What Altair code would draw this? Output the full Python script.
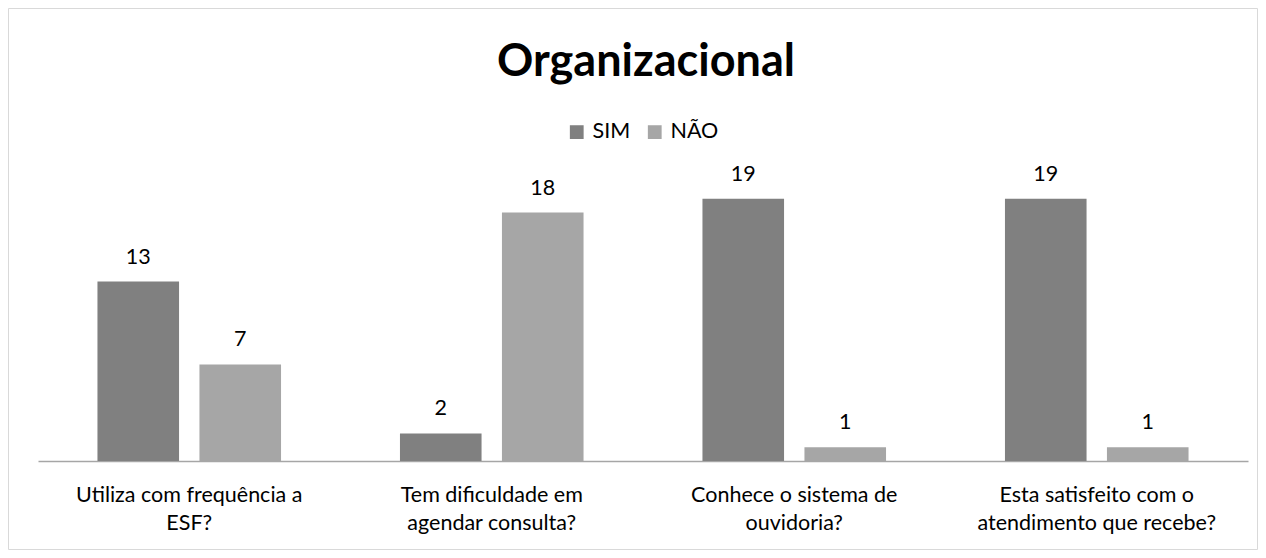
import altair as alt
import pandas as pd

categories = [
    "Utiliza com frequência a|ESF?",
    "Tem dificuldade em|agendar consulta?",
    "Conhece o sistema de|ouvidoria?",
    "Esta satisfeito com o|atendimento que recebe?",
]
series = ["SIM", "NÃO"]
sim_values = [13, 2, 19, 19]
nao_values = [7, 18, 1, 1]
title_text = ["Organizacional"]

rows = []
for c, s, n in zip(categories, sim_values, nao_values):
    rows.append({"cat": c, "serie": "SIM", "valor": s})
    rows.append({"cat": c, "serie": "NÃO", "valor": n})
df = pd.DataFrame(rows)

FONT = "Lato"
W, H = 1210, 276

x = alt.X("cat:N", sort=categories, title=None,
          scale=alt.Scale(paddingInner=0, paddingOuter=0),
          axis=alt.Axis(labelExpr="split(datum.label, '|')", labelAngle=0,
                        labelFontSize=21.5, labelFont=FONT, labelColor="#000000",
                        labelLineHeight=28, labelPadding=23, labelBaseline="top",
                        ticks=False, domainColor="#A6A6A6", domainWidth=1.5,
                        labelLimit=400))
xoff = alt.XOffset("serie:N", sort=series,
                   scale=alt.Scale(paddingInner=0.2, paddingOuter=0.583))
y = alt.Y("valor:Q", scale=alt.Scale(domain=[0, 20], nice=False), axis=None)
color = alt.Color("serie:N", sort=series,
                  scale=alt.Scale(domain=series, range=["#808080", "#A6A6A6"]),
                  legend=alt.Legend(title=None, orient="none", direction="horizontal",
                                    legendX=528, legendY=-64, symbolType="square",
                                    symbolSize=190, symbolStrokeWidth=0,
                                    labelFontSize=21.5, labelFont=FONT,
                                    labelColor="#000000", labelOffset=5,
                                    columnPadding=13, symbolOpacity=1))

base = alt.Chart(df)
bars = base.mark_bar().encode(x=x, xOffset=xoff, y=y, color=color)
labels = base.mark_text(fontSize=21.5, font=FONT, color="#000000",
                        baseline="alphabetic", dy=-18).encode(
    x=x, xOffset=xoff, y=y, text="valor:Q")

title = alt.Chart(pd.DataFrame({"t": title_text})).mark_text(
    fontSize=45, font=FONT, fontWeight="bold", color="#000000",
    align="center", baseline="alphabetic").encode(
    x=alt.value(W / 2 + 3), y=alt.value(-109), text="t:N")

border = alt.Chart(pd.DataFrame({"a": [0]})).mark_rect(
    fill=None, stroke="#D9D9D9", strokeWidth=1).encode(
    x=alt.value(-29.5), x2=alt.value(W + 9.5),
    y=alt.value(-176.5), y2=alt.value(H + 88.5))

chart = alt.layer(border, title, bars, labels).properties(
    width=W, height=H,
    autosize=alt.AutoSizeParams(type="none"),
    padding={"left": 30, "top": 177, "right": 10, "bottom": 89},
).configure_view(stroke=None)

chart.save("out.html", embed_options={"renderer": "svg", "actions": False})
